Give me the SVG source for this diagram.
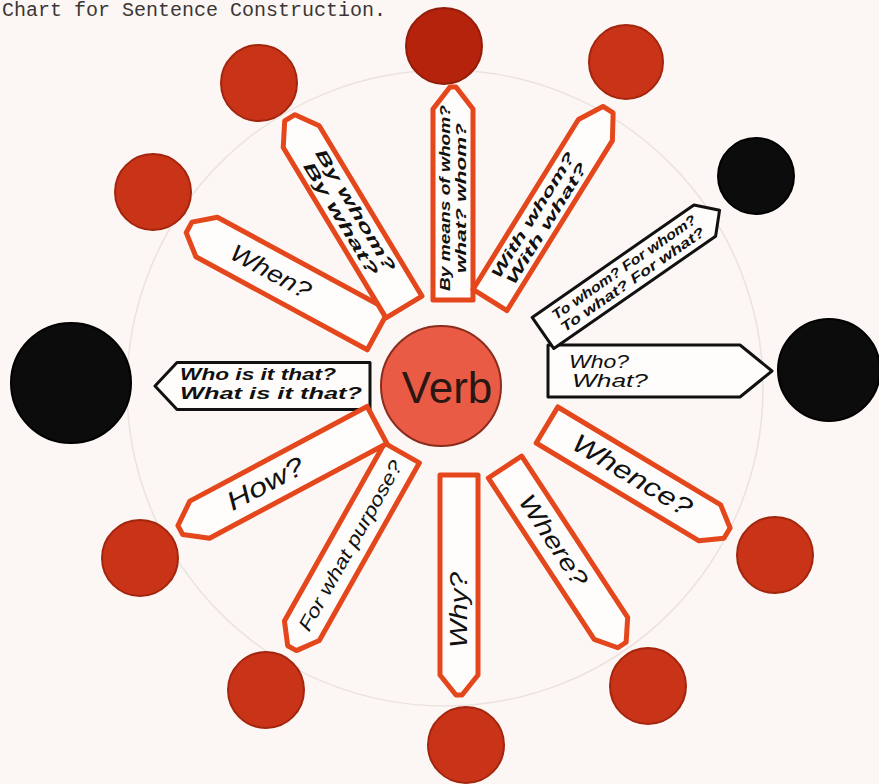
<svg xmlns="http://www.w3.org/2000/svg" width="879" height="784" viewBox="0 0 879 784">
<style>
.bg{fill:#fcf7f4}
.guide{fill:none;stroke:#ece2dd;stroke-width:1.5}
.red{fill:#c93418;stroke:#a3250d;stroke-width:2}
.dark{fill:#b5230c;stroke:#921c08;stroke-width:2}
.blk{fill:#0c0c0c;stroke:#000;stroke-width:2}
.po{fill:#fffdfb;stroke:#e4471c;stroke-width:5;stroke-linejoin:round}
.pb{fill:#fffdfb;stroke:#111;stroke-width:3;stroke-linejoin:round}
.lb{font-family:"Liberation Sans",Arial,sans-serif;font-style:italic;fill:#111;text-anchor:middle}
.ll{font-family:"Liberation Sans",Arial,sans-serif;font-style:italic;fill:#111}
.title{font-family:"Liberation Mono","Courier New",monospace;font-size:20px;fill:#3a3636}
</style>
<rect class="bg" x="0" y="0" width="879" height="784"/>
<circle class="guide" cx="445" cy="388" r="318"/>
<text class="title" x="2" y="16">Chart for Sentence Construction.</text>

<g id="connectors"></g>

<g id="verb">
<circle cx="441" cy="386" r="60" fill="#ea5b45" stroke="#8b2c1c" stroke-width="2"/>
<text x="447" y="403" font-family="Liberation Sans,Arial,sans-serif" font-size="44" fill="#2b1712" text-anchor="middle">Verb</text>
</g>

<g id="circle-top"><circle class="dark" cx="444" cy="46" r="38"/></g>
<g id="circle-top-right"><circle class="red" cx="626" cy="62" r="37"/></g>
<g id="circle-top-left"><circle class="red" cx="259" cy="83" r="38"/></g>
<g id="circle-left-upper"><circle class="red" cx="153" cy="192" r="38"/></g>
<g id="circle-black-upper-right"><circle class="blk" cx="756" cy="176" r="38"/></g>
<g id="circle-black-right"><circle class="blk" cx="829" cy="370" r="51"/></g>
<g id="circle-black-left"><circle class="blk" cx="71" cy="383" r="60"/></g>
<g id="circle-left-lower"><circle class="red" cx="140" cy="558" r="38"/></g>
<g id="circle-bottom-left"><circle class="red" cx="266" cy="690" r="38"/></g>
<g id="circle-bottom"><circle class="red" cx="466" cy="745" r="38"/></g>
<g id="circle-bottom-right"><circle class="red" cx="648" cy="686" r="38"/></g>
<g id="circle-right-lower"><circle class="red" cx="775" cy="555" r="38"/></g>

<g id="who-what">
<polygon class="pb" transform="translate(548,371)" points="0,-26 192,-26 224,0 192,26 0,26"/>
<text class="ll" x="569" y="368" font-size="18" textLength="60" lengthAdjust="spacingAndGlyphs">Who?</text>
<text class="ll" x="572" y="387" font-size="18" textLength="76" lengthAdjust="spacingAndGlyphs">What?</text>
</g>

<g id="who-is-it-that">
<polygon class="pb" transform="translate(370,386) rotate(180)" points="0,-23.5 193,-23.5 215,0 193,23.5 0,23.5"/>
<text class="ll" x="180" y="380" font-size="16" font-weight="bold" textLength="156" lengthAdjust="spacingAndGlyphs">Who is it that?</text>
<text class="ll" x="180" y="399" font-size="16" font-weight="bold" textLength="182" lengthAdjust="spacingAndGlyphs">What is it that?</text>
</g>

<g id="when" transform="translate(378,330) rotate(208.5)">
<polygon class="po" points="0,-22.5 195,-22.5 215,-6 215,6 195,22.5 0,22.5"/>
<text class="lb" transform="translate(122,0) rotate(180)" y="8" font-size="24" textLength="88" lengthAdjust="spacingAndGlyphs">When?</text>
</g>

<g id="by-whom" transform="translate(404,307) rotate(238.9)">
<polygon class="po" points="0,-21 199,-21 221,-6 221,6 199,21 0,21"/>
<g transform="translate(108,0) rotate(180)">
<text class="lb" y="-3" font-size="16" font-weight="bold" textLength="140" lengthAdjust="spacingAndGlyphs">By whom?</text>
<text class="lb" y="14" font-size="16" font-weight="bold" textLength="130" lengthAdjust="spacingAndGlyphs">By what?</text>
</g>
</g>

<g id="by-means-of" transform="translate(453,300) rotate(270)">
<polygon class="po" points="0,-20 191,-20 213,-3 213,3 191,20 0,20"/>
<g transform="translate(102,0)">
<text class="lb" y="-3" font-size="15" font-weight="bold" textLength="186" lengthAdjust="spacingAndGlyphs">By means of whom?</text>
<text class="lb" y="13" font-size="15" font-weight="bold" textLength="150" lengthAdjust="spacingAndGlyphs">what? whom?</text>
</g>
</g>

<g id="with-whom" transform="translate(490,300) rotate(301.8)">
<polygon class="po" points="0,-20 200,-20 224,-6 224,6 200,20 0,20"/>
<g transform="translate(95,0)">
<text class="lb" y="-3" font-size="15" font-weight="bold" textLength="145" lengthAdjust="spacingAndGlyphs">With whom?</text>
<text class="lb" y="13" font-size="15" font-weight="bold" textLength="140" lengthAdjust="spacingAndGlyphs">With what?</text>
</g>
</g>

<g id="to-whom" transform="translate(543,333) rotate(-34.8)">
<polygon class="pb" points="0,-19 197,-19 215,0 197,19 0,19"/>
<g transform="translate(104,0)">
<text class="lb" y="-3" font-size="14" font-weight="bold" textLength="172" lengthAdjust="spacingAndGlyphs">To whom? For whom?</text>
<text class="lb" y="12" font-size="14" font-weight="bold" textLength="172" lengthAdjust="spacingAndGlyphs">To what? For what?</text>
</g>
</g>

<g id="whence" transform="translate(547,425) rotate(31)">
<polygon class="po" points="0,-21 190,-21 210,-6 210,6 190,21 0,21"/>
<text class="lb" x="99" y="8" font-size="26" textLength="135" lengthAdjust="spacingAndGlyphs">Whence?</text>
</g>

<g id="where" transform="translate(505,467) rotate(56.7)">
<polygon class="po" points="0,-20 193,-20 213,-5 213,5 193,20 0,20"/>
<text class="lb" x="88" y="8" font-size="24" textLength="105" lengthAdjust="spacingAndGlyphs">Where?</text>
</g>

<g id="why" transform="translate(459,475) rotate(90)">
<polygon class="po" points="0,-19 200,-19 220,-3 220,3 200,19 0,19"/>
<text class="lb" transform="translate(135,0) rotate(180)" y="8" font-size="24" textLength="76" lengthAdjust="spacingAndGlyphs">Why?</text>
</g>

<g id="for-what-purpose" transform="translate(402,453) rotate(119.4)">
<polygon class="po" points="0,-20 204,-20 224,-5 224,5 204,20 0,20"/>
<text class="lb" transform="translate(106,0) rotate(180)" y="7" font-size="19" textLength="192" lengthAdjust="spacingAndGlyphs">For what purpose?</text>
</g>

<g id="how" transform="translate(377,425) rotate(151.9)">
<polygon class="po" points="0,-21 201,-21 223,-5 223,5 201,21 0,21"/>
<text class="lb" transform="translate(126,0) rotate(180)" y="8" font-size="26" textLength="84" lengthAdjust="spacingAndGlyphs">How?</text>
</g>
</svg>
